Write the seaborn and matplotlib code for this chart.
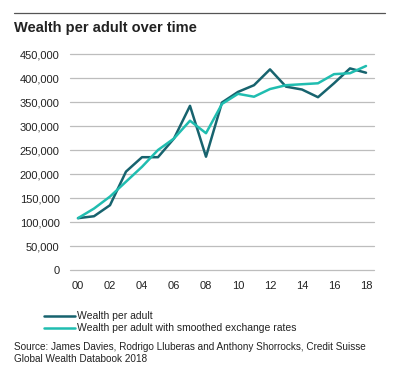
import numpy as np
import pandas as pd
import seaborn as sns
import matplotlib.pyplot as plt
from matplotlib.lines import Line2D

# Values (USD per adult)
years = list(range(2000, 2019))
wealth = [108000, 112000, 135000, 205000, 235000, 235000, 274000, 342000, 236000, 349000,
          371000, 385000, 418000, 382000, 376000, 360000, 389000, 420000, 411000]
wealth_smoothed = [108000, 128000, 153000, 184000, 215000, 250000, 274000, 311000, 285000, 346000,
                   367000, 361000, 377000, 385000, 387000, 389000, 408000, 410000, 425000]
tick_labels = ["00", "02", "04", "06", "08", "10", "12", "14", "16", "18"]
series_names = ["Wealth per adult", "Wealth per adult with smoothed exchange rates"]
colors = ["#17636e", "#20bdb0"]

df = pd.DataFrame({
    "year": years * 2,
    "value": wealth + wealth_smoothed,
    "series": [series_names[0]] * len(years) + [series_names[1]] * len(years),
})

sns.set_theme(style="white")
plt.rcParams['font.family'] = ['Liberation Sans', 'DejaVu Sans']

fig = plt.figure(figsize=(3.95, 3.79), dpi=100)
ax = fig.add_axes([70 / 395, 1 - 270 / 379, 304 / 395, 216 / 379])

sns.lineplot(data=df, x="year", y="value", hue="series", palette=colors,
             linewidth=1.8, ax=ax, legend=False)

ax.set_xlim(1999.5, 2018.5)
ax.set_ylim(0, 450000)
ax.set_yticks(np.arange(0, 450001, 50000))
ax.set_yticklabels([f"{v:,}" for v in range(0, 450001, 50000)])
ax.set_xticks(years[::2])
ax.set_xticklabels(tick_labels)
ax.yaxis.grid(True, color="#bdbdbd", linewidth=0.9)
for gl in ax.get_ygridlines():
    gl.set_clip_on(False)
ax.set_axisbelow(True)
for s in ax.spines.values():
    s.set_visible(False)
ax.tick_params(axis="both", labelsize=8, colors="#222222", length=0)
ax.tick_params(axis="y", pad=7.5)
ax.tick_params(axis="x", pad=8)
ax.set_xlabel("")
ax.set_ylabel("")

# header rule and title
fig.add_artist(Line2D([14 / 395, 385 / 395], [1 - 13 / 379] * 2, color="#555555", linewidth=0.9))
fig.text(14 / 395, 1 - 28 / 379, "Wealth per adult over time", fontsize=10.5, fontweight="bold",
         color="#222222", va="center", ha="left")

# legend
for i, (name, c) in enumerate(zip(series_names, colors)):
    y = 1 - (316 + 12 * i) / 379
    fig.add_artist(Line2D([44 / 395, 75 / 395], [y, y], color=c, linewidth=1.8))
    fig.text(77 / 395, y, name, fontsize=7.5, color="#222222", va="center", ha="left")

fig.text(14 / 395, 1 - 347 / 379, "Source: James Davies, Rodrigo Lluberas and Anthony Shorrocks, Credit Suisse",
         fontsize=7.2, color="#222222", va="center", ha="left")
fig.text(14 / 395, 1 - 359 / 379, "Global Wealth Databook 2018",
         fontsize=7.2, color="#222222", va="center", ha="left")

fig.savefig("out.png", dpi=100, facecolor="white")
